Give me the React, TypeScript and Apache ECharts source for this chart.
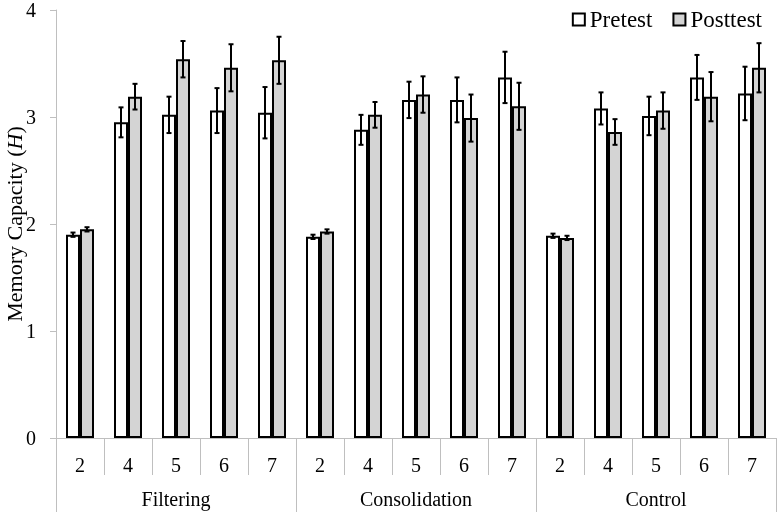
import React, { useEffect, useRef } from "react";
import * as echarts from "echarts";

const categories = ["2", "4", "5", "6", "7", "2", "4", "5", "6", "7", "2", "4", "5", "6", "7"];
const groups = ["Filtering", "Consolidation", "Control"];
const yTicks = [0, 1, 2, 3, 4];
const pretest = [1.9, 2.95, 3.02, 3.06, 3.04, 1.88, 2.88, 3.16, 3.16, 3.37, 1.89, 3.08, 3.01, 3.37, 3.22];
const pretestErr = [0.02, 0.14, 0.17, 0.21, 0.24, 0.02, 0.14, 0.17, 0.21, 0.24, 0.02, 0.15, 0.18, 0.21, 0.25];
const posttest = [1.95, 3.19, 3.54, 3.46, 3.53, 1.93, 3.02, 3.21, 2.99, 3.1, 1.87, 2.86, 3.06, 3.19, 3.46];
const posttestErr = [0.02, 0.12, 0.17, 0.22, 0.22, 0.02, 0.12, 0.17, 0.22, 0.22, 0.02, 0.12, 0.17, 0.23, 0.23];

const FONT = "Liberation Serif";
const AXIS_GRAY = "#bfbfbf";
const BAR_W = 14;

function errorSeries(values: number[], errs: number[], offset: number) {
  return {
    type: "custom",
    xAxisIndex: 0,
    yAxisIndex: 0,
    z: 10,
    silent: true,
    data: values.map((v, i) => [i, v, errs[i]]),
    encode: { x: 0, y: 1 },
    renderItem: (params: any, api: any) => {
      const idx = api.value(0);
      const v = api.value(1);
      const e = api.value(2);
      const top = api.coord([idx, v + e]);
      const bot = api.coord([idx, v - e]);
      const x = top[0] + offset;
      const cap = 2.5;
      const style = { stroke: "#000", lineWidth: 2 };
      return {
        type: "group",
        children: [
          { type: "line", shape: { x1: x, y1: top[1], x2: x, y2: bot[1] }, style },
          { type: "line", shape: { x1: x - cap, y1: top[1], x2: x + cap, y2: top[1] }, style },
          { type: "line", shape: { x1: x - cap, y1: bot[1], x2: x + cap, y2: bot[1] }, style },
        ],
      };
    },
  };
}

export default function App() {
  const ref = useRef<HTMLDivElement>(null);
  useEffect(() => {
    if (!ref.current) return;
    const chart = echarts.init(ref.current, null, { renderer: "svg" });
    chart.setOption({
      animation: false,
      textStyle: { fontFamily: FONT },
      grid: { left: 56, right: 1, top: 10, bottom: 74, containLabel: false, outerBoundsMode: "none" },
      legend: {
        data: ["Pretest", "Posttest"],
        right: 10,
        top: 3,
        icon: "rect",
        itemWidth: 12,
        itemHeight: 12,
        itemGap: 20,
        textStyle: { fontFamily: FONT, fontSize: 23, color: "#000" },
      },
      xAxis: [
        {
          type: "category",
          data: categories,
          position: "bottom",
          axisLine: { show: true, lineStyle: { color: AXIS_GRAY, width: 1 } },
          axisTick: { show: true, length: 37, interval: 0, lineStyle: { color: AXIS_GRAY } },
          axisLabel: { interval: 0, margin: 17, fontFamily: FONT, fontSize: 20, color: "#000" },
          splitLine: { show: false },
        },
        {
          type: "category",
          data: groups,
          position: "bottom",
          offset: 37,
          axisLine: { show: false },
          axisTick: { show: true, length: 37, interval: 0, lineStyle: { color: AXIS_GRAY } },
          axisLabel: { interval: 0, margin: 14, fontFamily: FONT, fontSize: 20, color: "#000" },
          splitLine: { show: false },
        },
      ],
      yAxis: {
        type: "value",
        min: yTicks[0],
        max: yTicks[yTicks.length - 1],
        interval: 1,
        axisLine: { show: true, lineStyle: { color: AXIS_GRAY } },
        axisTick: { show: true, length: 6, lineStyle: { color: AXIS_GRAY } },
        splitLine: { show: false },
        axisLabel: { margin: 20, fontFamily: FONT, fontSize: 20, color: "#000" },
        name: "{a|Memory Capacity (}{b|H}{a|)}",
        nameLocation: "middle",
        nameRotate: 90,
        nameGap: 31,
        nameMoveOverlap: false,
        nameTextStyle: {
          rich: {
            a: { fontFamily: FONT, fontSize: 22, color: "#000" },
            b: { fontFamily: FONT, fontSize: 22, color: "#000", fontStyle: "italic" },
          },
        },
      },
      series: [
        {
          name: "Pretest",
          type: "bar",
          data: pretest,
          barWidth: BAR_W,
          barGap: "0%",
          itemStyle: { color: "#ffffff", borderColor: "#000", borderWidth: 2 },
        },
        {
          name: "Posttest",
          type: "bar",
          data: posttest,
          barWidth: BAR_W,
          barGap: "0%",
          itemStyle: { color: "#d4d4d4", borderColor: "#000", borderWidth: 2 },
        },
        errorSeries(pretest, pretestErr, -BAR_W / 2),
        errorSeries(posttest, posttestErr, BAR_W / 2),
      ],
    });
    return () => chart.dispose();
  }, []);
  return <div ref={ref} style={{ width: 777, height: 512, position: "fixed", left: 0, top: 0 }} />;
}
